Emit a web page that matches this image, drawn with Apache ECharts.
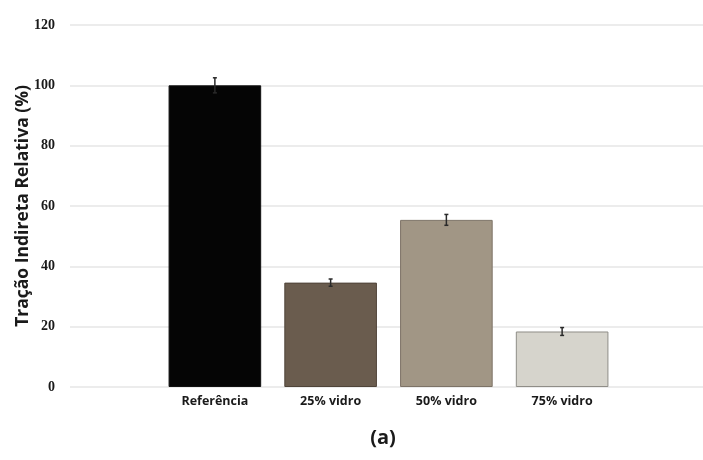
<!DOCTYPE html>
<html>
<head>
<meta charset="utf-8">
<script src="https://cdn.jsdelivr.net/npm/echarts@6/dist/echarts.min.js"></script>
<style>html,body{margin:0;padding:0;background:#fff;}#c{width:703px;height:460px;}</style>
</head>
<body>
<div id="c"></div>
<script>
const categories = ['Referência', '25% vidro', '50% vidro', '75% vidro'];
const values = [100, 34.6, 55.4, 18.4];
const errors = [2.5, 1.2, 1.8, 1.3];
const barColors = ['#050505', '#6a5c4e', '#a19685', '#d6d4cc'];
const borderColors = ['#111111', '#4f4439', '#7d7367', '#8f8d87'];
const yTicks = { min: 0, max: 120, interval: 20 };
const yName = 'Tração Indireta Relativa (%)';
const subLabel = '(a)';

const chart = echarts.init(document.getElementById('c'), null, { renderer: 'canvas' });
const option = {
  backgroundColor: '#ffffff',
  animation: false,
  grid: [
    { left: 70, right: 0, top: 25, bottom: 73 },
    { left: 157, right: 83, top: 25, bottom: 73 }
  ],
  xAxis: [
    { gridIndex: 0, type: 'value', min: 0, max: 1, show: false },
    {
      gridIndex: 1, type: 'category', data: categories,
      axisLine: { show: false }, axisTick: { show: false },
      axisLabel: { margin: 8, color: '#1a1a1a', fontFamily: 'Open Sans', fontWeight: 'bold', fontSize: 12.5 }
    }
  ],
  yAxis: [
    {
      gridIndex: 0, type: 'value', min: yTicks.min, max: yTicks.max, interval: yTicks.interval,
      name: yName, nameLocation: 'middle', nameGap: 38, nameMoveOverlap: false,
      nameTextStyle: { color: '#1a1a1a', fontFamily: 'Open Sans', fontWeight: 'bold', fontSize: 17.5 },
      axisLine: { show: false }, axisTick: { show: false },
      axisLabel: { margin: 15, color: '#1a1a1a', fontFamily: 'Liberation Serif', fontWeight: 'bold', fontSize: 14 },
      splitLine: { show: true, lineStyle: { color: '#e6e6e6', width: 1.5 } }
    },
    {
      gridIndex: 1, type: 'value', min: yTicks.min, max: yTicks.max, interval: yTicks.interval, show: false
    }
  ],
  series: [
    {
      type: 'bar', xAxisIndex: 1, yAxisIndex: 1, barCategoryGap: '20%',
      data: values.map((v, i) => ({
        value: v,
        itemStyle: { color: barColors[i], borderColor: borderColors[i], borderWidth: 1 }
      }))
    },
    {
      type: 'custom', xAxisIndex: 1, yAxisIndex: 1, z: 5,
      data: values.map((v, i) => [i, v - errors[i], v + errors[i]]),
      renderItem: function (params, api) {
        const x = api.value(0);
        const lo = api.coord([x, api.value(1)]);
        const hi = api.coord([x, api.value(2)]);
        const cap = 2;
        const st = { stroke: '#2a2a2a', lineWidth: 1.5 };
        return {
          type: 'group',
          children: [
            { type: 'line', shape: { x1: lo[0], y1: lo[1], x2: hi[0], y2: hi[1] }, style: st },
            { type: 'line', shape: { x1: lo[0] - cap, y1: lo[1], x2: lo[0] + cap, y2: lo[1] }, style: st },
            { type: 'line', shape: { x1: hi[0] - cap, y1: hi[1], x2: hi[0] + cap, y2: hi[1] }, style: st }
          ]
        };
      }
    }
  ],
  graphic: [
    {
      type: 'text', x: 383, y: 438,
      style: { text: subLabel, fill: '#1a1a1a', font: 'bold 20px "Open Sans"', textAlign: 'center', textVerticalAlign: 'middle' }
    }
  ]
};
chart.setOption(option);
</script>
</body>
</html>
